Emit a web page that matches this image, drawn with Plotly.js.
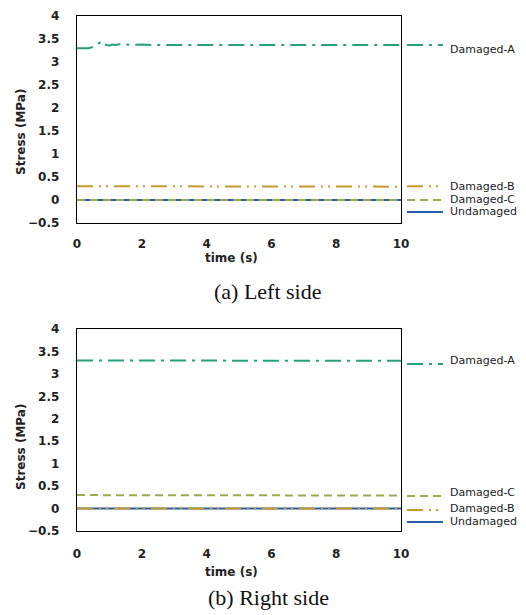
<!DOCTYPE html>
<html>
<head>
<meta charset="utf-8">
<script src="https://cdn.plot.ly/plotly-3.0.1.min.js"></script>
<style>html,body{margin:0;padding:0;background:#fff;}#chart{width:526px;height:615px;}</style>
</head>
<body>
<div id="chart"></div>
<script>
// ---- data ----
// (a) Left side
const leftTimeA   = [0, 0.35, 0.5, 0.6, 0.7, 0.75, 0.8, 0.85, 0.9, 1.0, 1.1, 1.2, 1.3, 1.4, 1.5, 1.7, 2.0, 2.3, 10];
const leftStressA = [3.30, 3.30, 3.33, 3.37, 3.42, 3.40, 3.38, 3.41, 3.37, 3.36, 3.38, 3.37, 3.39, 3.40, 3.38, 3.37, 3.38, 3.37, 3.37];
const leftTimeFlat = [0, 10];
const leftStressB = [0.30, 0.29];
const leftStressC = [0.00, 0.00];
const leftStressU = [0.00, 0.00];
// (b) Right side
const rightTimeFlat = [0, 10];
const rightStressA = [3.30, 3.29];
const rightStressB = [0.00, 0.00];
const rightStressC = [0.30, 0.29];
const rightStressU = [0.00, 0.00];

const seriesNames = ['Undamaged', 'Damaged-C', 'Damaged-B', 'Damaged-A'];
const yTickVals = [-0.5, 0, 0.5, 1, 1.5, 2, 2.5, 3, 3.5, 4];
const xTickVals = [0, 2, 4, 6, 8, 10];

// ---- styles ----
const style = {
  'Damaged-A': {color: '#27a07b', dash: '16px,6px,3px,6px'},
  'Damaged-B': {color: '#c69a2e', dash: '16px,6px,2px,5px,2px,6px'},
  'Damaged-C': {color: '#9aab50', dash: '8px,5px'},
  'Undamaged': {color: '#2b5ea6', dash: 'solid'}
};

function tr(name, x, y, ax) {
  return {type: 'scatter', mode: 'lines', name: name, x: x, y: y,
          xaxis: ax === 1 ? 'x' : 'x2', yaxis: ax === 1 ? 'y' : 'y2',
          line: {color: style[name].color, dash: style[name].dash, width: 2},
          hoverinfo: 'skip', showlegend: false};
}

const data = [
  tr('Undamaged', leftTimeFlat, leftStressU, 1),
  tr('Damaged-C', leftTimeFlat, leftStressC, 1),
  tr('Damaged-B', leftTimeFlat, leftStressB, 1),
  tr('Damaged-A', leftTimeA, leftStressA, 1),
  tr('Undamaged', rightTimeFlat, rightStressU, 2),
  tr('Damaged-B', rightTimeFlat, rightStressB, 2),
  tr('Damaged-C', rightTimeFlat, rightStressC, 2),
  tr('Damaged-A', rightTimeFlat, rightStressA, 2)
];

// legend placement (y in data units of each panel: line level, text level)
const legendTop = {'Damaged-A': [3.37, 3.27], 'Damaged-B': [0.30, 0.30], 'Damaged-C': [0.0, 0.02], 'Undamaged': [-0.26, -0.26]};
const legendBot = {'Damaged-A': [3.22, 3.29], 'Damaged-C': [0.28, 0.35], 'Damaged-B': [-0.03, 0.01], 'Undamaged': [-0.30, -0.28]};

const W = 526, H = 615;
const px = v => v / W;
const py = v => 1 - v / H;

const shapes = [], annotations = [];
function addLegend(map, yref) {
  Object.keys(map).forEach(n => {
    shapes.push({type: 'line', xref: 'paper', yref: yref, x0: px(407), x1: px(443),
                 y0: map[n][0], y1: map[n][0],
                 line: {color: style[n].color, dash: style[n].dash, width: 2}});
    annotations.push({xref: 'paper', yref: yref, x: px(448), y: map[n][1], xanchor: 'left', yanchor: 'middle',
                      text: n, showarrow: false, font: {family: 'DejaVu Sans', size: 11, color: '#222'}});
  });
}
addLegend(legendTop, 'y');
addLegend(legendBot, 'y2');

function lbl(text, x, y, rot) {
  annotations.push({xref: 'paper', yref: 'paper', x: px(x), y: py(y), xanchor: 'center', yanchor: 'middle',
                    text: '<b>' + text + '</b>', textangle: rot || 0, showarrow: false,
                    font: {family: 'DejaVu Sans', size: 12, color: '#222'}});
}
lbl('Stress (MPa)', 21, 132, -90);
lbl('time (s)', 231, 258);
lbl('Stress (MPa)', 21, 447, -90);
lbl('time (s)', 231, 572);

function cap(text, y) {
  annotations.push({xref: 'paper', yref: 'paper', x: px(268), y: py(y), xanchor: 'center', yanchor: 'middle',
                    text: text, showarrow: false, font: {family: 'Liberation Serif', size: 22, color: '#111'}});
}
cap('(a) Left side', 291);
cap('(b) Right side', 597);

function xax(anchor, standoff) {
  return {domain: [px(77), px(401)], anchor: anchor, range: [0, 10], tickvals: xTickVals,
          ticks: '', showgrid: false, zeroline: false, showline: true, mirror: true,
          linecolor: '#000', linewidth: 1.3, ticklabelstandoff: standoff,
          tickfont: {family: 'DejaVu Sans', size: 12, color: '#222', weight: 'bold'}};
}
function yax(anchor, top, bottom) {
  return {domain: [py(bottom), py(top)], anchor: anchor, range: [-0.5, 4], tickvals: yTickVals,
          ticks: '', showgrid: false, zeroline: false, showline: true, mirror: true,
          linecolor: '#000', linewidth: 1.3, ticklabelstandoff: 14,
          tickfont: {family: 'DejaVu Sans', size: 12, color: '#222', weight: 'bold'}};
}

const layout = {
  width: W, height: H, margin: {l: 0, r: 0, t: 0, b: 0},
  paper_bgcolor: '#fff', plot_bgcolor: '#fff', showlegend: false,
  xaxis: xax('y', 9),
  yaxis: yax('x', 16, 223),
  xaxis2: xax('y2', 11),
  yaxis2: yax('x2', 329, 531),
  shapes: shapes, annotations: annotations
};

Plotly.newPlot('chart', data, layout, {staticPlot: true, displayModeBar: false});
</script>
</body>
</html>
